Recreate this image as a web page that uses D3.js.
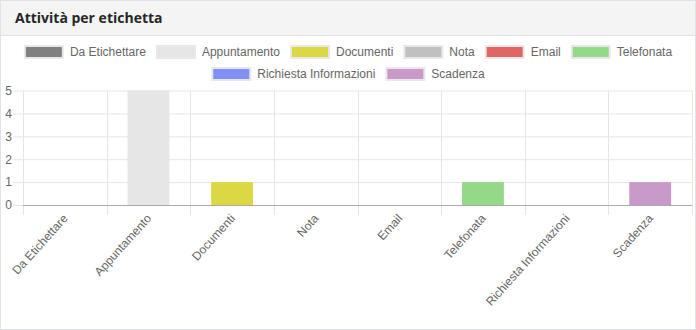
<!DOCTYPE html>
<html>
<head>
<meta charset="utf-8">
<script src="https://cdn.jsdelivr.net/npm/d3@7/dist/d3.min.js"></script>
<style>
  html, body { margin: 0; padding: 0; background: #fff; }
  svg { display: block; }
</style>
</head>
<body>
<svg id="chart" width="696" height="330"></svg>
<script>
// Activity counts per label
const categories = ["Da Etichettare", "Appuntamento", "Documenti", "Nota", "Email", "Telefonata", "Richiesta Informazioni", "Scadenza"];
const counts = [0, 5, 1, 0, 0, 1, 0, 1];
const colors = ["#808080", "#e6e6e6", "#dcd844", "#c0c0c0", "#e06666", "#93d987", "#8090f6", "#c899c9"];
const yTicks = [0, 1, 2, 3, 4, 5];
const title = "Attività per etichetta";

const W = 696, H = 330;
const svg = d3.select("#chart");
const font = "'Liberation Sans', Arial, Helvetica, sans-serif";

// Card frame and header
svg.append("rect").attr("x", 0.5).attr("y", 0.5).attr("width", W - 1).attr("height", H - 1)
  .attr("fill", "#fff").attr("stroke", "#dfe4ea");
svg.append("rect").attr("x", 1).attr("y", 1).attr("width", W - 2).attr("height", 34)
  .attr("fill", "#f4f4f4");
svg.append("line").attr("x1", 1).attr("x2", W - 1).attr("y1", 35.5).attr("y2", 35.5)
  .attr("stroke", "#e2e2e2");
svg.append("text").attr("x", 15).attr("y", 23)
  .attr("font-family", "'Open Sans', 'Noto Sans', sans-serif")
  .attr("font-weight", 700).attr("font-size", 14).attr("fill", "#262626")
  .text(title);

// Plot area
const plot = { left: 23, right: 692, top: 90.5, bottom: 205 };
const x = d3.scaleBand().domain(categories).range([plot.left, plot.right]);
const y = d3.scaleLinear().domain([0, 5]).range([plot.bottom, plot.top]);

const g = svg.append("g");

// Horizontal grid with left tick marks
const yAxis = d3.axisLeft(y).tickValues(yTicks).tickSize(-(plot.right - plot.left)).tickPadding(11).tickFormat(d3.format("d"));
const yg = g.append("g").attr("transform", `translate(${plot.left},0)`).call(yAxis);
yg.select(".domain").remove();
yg.selectAll(".tick line").attr("stroke", "#e6e6e6").attr("x1", -10);
yg.selectAll(".tick text").attr("font-family", font).attr("font-size", 12).attr("fill", "#666").attr("x", -11);

// Vertical grid at band edges, extending below the axis as ticks
const edges = categories.map(c => x(c)).concat([plot.right]);
g.append("g").selectAll("line").data(edges).join("line")
  .attr("x1", d => Math.round(d) + 0.5).attr("x2", d => Math.round(d) + 0.5)
  .attr("y1", plot.top).attr("y2", plot.bottom + 10)
  .attr("stroke", "#e6e6e6");

// Bars
const barW = x.bandwidth() * 0.5;
g.append("g").selectAll("rect").data(categories).join("rect")
  .attr("x", (d) => x(d) + (x.bandwidth() - barW) / 2)
  .attr("y", (d, i) => y(counts[i]))
  .attr("width", barW)
  .attr("height", (d, i) => y(0) - y(counts[i]))
  .attr("fill", (d, i) => colors[i]);

// Zero line
g.append("line").attr("x1", plot.left).attr("x2", plot.right)
  .attr("y1", plot.bottom + 0.5).attr("y2", plot.bottom + 0.5)
  .attr("stroke", "#aaaaaa");

// Rotated category labels
g.append("g").selectAll("text").data(categories).join("text")
  .attr("transform", d => `translate(${x(d) + x.bandwidth() / 2 + 0.5},${plot.bottom + 11}) rotate(-48)`)
  .attr("text-anchor", "end").attr("dy", "0.35em")
  .attr("font-family", font).attr("font-size", 12).attr("fill", "#666")
  .text(d => d);

// Legend, wrapped into centered rows
const boxW = 40, boxH = 12, gap = 6, itemPad = 10, maxW = 660;
const measure = svg.append("text").attr("font-family", font).attr("font-size", 12);
const items = categories.map((c, i) => {
  measure.text(c);
  const tw = measure.node().getComputedTextLength();
  return { label: c, color: colors[i], w: boxW + gap + tw };
});
measure.remove();
const rows = [[]];
let rowW = 0;
items.forEach(it => {
  const add = (rows[rows.length - 1].length ? itemPad : 0) + it.w;
  if (rowW + add > maxW) { rows.push([it]); rowW = it.w; }
  else { rows[rows.length - 1].push(it); rowW += add; }
});
const legend = svg.append("g");
const rowY = [52, 74];
rows.forEach((row, r) => {
  const total = d3.sum(row, d => d.w) + itemPad * (row.length - 1);
  let cx = 348 - total / 2;
  row.forEach(it => {
    legend.append("rect").attr("x", cx + 1).attr("y", rowY[r] - boxH / 2)
      .attr("width", boxW - 2).attr("height", boxH)
      .attr("fill", it.color).attr("stroke", "#e8e8e8").attr("stroke-width", 2);
    legend.append("text").attr("x", cx + boxW + gap).attr("y", rowY[r]).attr("dy", "0.35em")
      .attr("font-family", font).attr("font-size", 12).attr("fill", "#666")
      .text(it.label);
    cx += it.w + itemPad;
  });
});
</script>
</body>
</html>
